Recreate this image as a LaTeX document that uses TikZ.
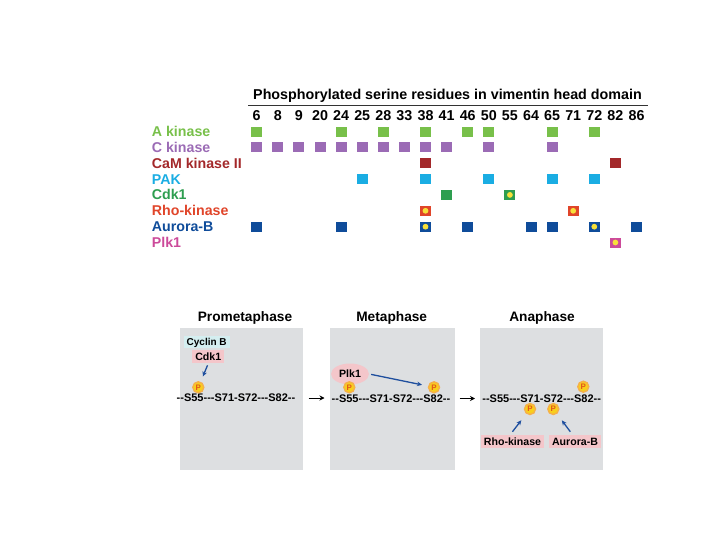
\documentclass[tikz,border=0pt]{standalone}
\usepackage{fontspec}
\setmainfont{Liberation Sans}
\usetikzlibrary{arrows.meta,shapes.geometric,calc}
\definecolor{cA}{HTML}{78C04A}
\definecolor{cC}{HTML}{9B6BB5}
\definecolor{cCaM}{HTML}{A3282A}
\definecolor{cPAK}{HTML}{1AADE3}
\definecolor{cCdk}{HTML}{2E9E50}
\definecolor{cRho}{HTML}{E0452A}
\definecolor{cAur}{HTML}{0F4C9A}
\definecolor{cPlk}{HTML}{CC4A9A}
\definecolor{dotY}{HTML}{F7E03A}
\definecolor{panelG}{HTML}{DDDFE1}
\definecolor{pinkB}{HTML}{F4C6CA}
\definecolor{cyanB}{HTML}{D4EEF0}
\definecolor{arrB}{HTML}{1F4F9E}
\definecolor{pFill}{HTML}{F8CF1C}
\definecolor{pRing}{HTML}{F5B04A}
\definecolor{pText}{HTML}{E2561B}
\newcommand\dsh{-\kern0pt}
\begin{document}
\begin{tikzpicture}[x=1pt,y=-1pt,
  lbl/.style={font=\fontsize{14.2}{14}\bfseries\selectfont, anchor=west, inner sep=0pt, text height=10pt, text depth=0pt},
  num/.style={font=\fontsize{14.3}{14}\bfseries\selectfont, inner sep=0pt, text height=10pt, text depth=0pt},
  sq/.style={minimum width=11pt, minimum height=10pt, inner sep=0pt},
  ydot/.style={circle, fill=dotY, minimum size=5.8pt, inner sep=0pt},
  panel/.style={fill=panelG, minimum height=142pt, inner sep=0pt},
  ttl/.style={font=\fontsize{13.7}{14}\bfseries\selectfont, inner sep=0pt, text height=10pt, text depth=0pt},
  seq/.style={font=\fontsize{11}{11}\bfseries\selectfont, inner sep=0pt, text height=7.9pt, text depth=0pt},
  kin/.style={font=\fontsize{10.6}{11}\bfseries\selectfont, inner sep=0pt, text height=7.6pt, text depth=0pt, fill=pinkB, inner xsep=3pt, inner ysep=2.8pt},
  pc/.style={circle, fill=pFill, draw=pRing, line width=1.4pt, minimum size=11pt, inner sep=0pt, text=pText, font=\fontsize{8}{8}\bfseries\selectfont},
  barr/.style={draw=arrB, line width=1.3pt, -{Stealth[length=5pt,width=4.5pt]}},
  karr/.style={draw=black, line width=0.9pt, -{Stealth[length=5pt,width=5pt]}}
]
\useasboundingbox (0,0) rectangle (720,540);

% header
\node[num] (hdr) at (447.5,95) {Phosphorylated serine residues in vimentin head domain};
\coordinate (hl) at (248,105);
\coordinate (hr) at (648,105);
\draw[line width=0.8pt, black!80] (hl) -- (hr);

\foreach \n [count=\i from 0] in {6,8,9,20,24,25,28,33,38,41,46,50,55,64,65,71,72,82,86}
  \node[num] (n\n) at ({256.7+21.1*\i},115.8) {\n};

% row labels
\node[lbl,text=cA]   (lA)   at (151.7,131.7) {A kinase};
\node[lbl,text=cC]   (lC)   at (151.7,147.4) {C kinase};
\node[lbl,text=cCaM] (lCaM) at (151.7,163.3) {CaM kinase II};
\node[lbl,text=cPAK] (lPAK) at (151.7,179.1) {PAK};
\node[lbl,text=cCdk] (lCdk) at (151.7,194.9) {Cdk1};
\node[lbl,text=cRho] (lRho) at (151.7,210.8) {Rho-kinase};
\node[lbl,text=cAur] (lAur) at (151.7,226.7) {Aurora-B};
\node[lbl,text=cPlk] (lPlk) at (151.7,242.5) {Plk1};

% squares
\foreach \c in {6,24,28,38,46,50,65,72}
  \node[sq,fill=cA] (A\c) at (n\c |- lA) {};
\foreach \c in {6,8,9,20,24,25,28,33,38,41,50,65}
  \node[sq,fill=cC] (C\c) at (n\c |- lC) {};
\foreach \c in {38,82}
  \node[sq,fill=cCaM] (M\c) at (n\c |- lCaM) {};
\foreach \c in {25,38,50,65,72}
  \node[sq,fill=cPAK] (K\c) at (n\c |- lPAK) {};
\foreach \c in {41,55}
  \node[sq,fill=cCdk] (D\c) at (n\c |- lCdk) {};
\foreach \c in {38,71}
  \node[sq,fill=cRho] (R\c) at (n\c |- lRho) {};
\foreach \c in {6,24,38,46,64,65,72,86}
  \node[sq,fill=cAur] (U\c) at (n\c |- lAur) {};
\node[sq,fill=cPlk] (L82) at (n82 |- lPlk) {};

% yellow dots
\node[ydot] (dD55) at (D55) {};
\node[ydot] (dR38) at (R38) {};
\node[ydot] (dR71) at (R71) {};
\node[ydot] (dU38) at (U38) {};
\node[ydot] (dU72) at (U72) {};
\node[ydot] (dL82) at (L82) {};

% panels
\node[panel, minimum width=123pt] (pro) at (241.5,399) {};
\node[panel, minimum width=125pt] (met) at (392.5,399) {};
\node[panel, minimum width=123pt] (ana) at (541.5,398.5) {};
\node[ttl] (tpro) at (245,316.7) {Prometaphase};
\node[ttl] (tmet) at (391.7,316.7) {Metaphase};
\node[ttl] (tana) at (542,316.7) {Anaphase};

% sequences
\newcommand\seqtxt{\dsh\dsh S55\dsh\dsh\dsh S71\dsh S72\dsh\dsh\dsh S82\dsh\dsh}
\node[seq] (s1) at (236,398) {\seqtxt};
\node[seq] (s2) at (391,398.5) {\seqtxt};
\node[seq] (s3) at (541.7,399) {\seqtxt};

\coordinate (a1s) at (308.5,398);
\coordinate (a1e) at (324.5,398);
\coordinate (a2s) at (459.5,398.5);
\coordinate (a2e) at (475,398.5);
\draw[karr] (a1s) -- (a1e);
\draw[karr] (a2s) -- (a2e);

% prometaphase
\node[font=\fontsize{10}{10}\bfseries\selectfont, fill=cyanB, inner sep=0pt, inner xsep=3pt, inner ysep=2.2pt, text height=7.2pt, text depth=0pt] (cyc) at (206.7,341.7) {Cyclin B};
\node[kin] (cdk) at (208.3,356.7) {Cdk1};
\node[pc] (p1) at (198.3,387.3) {P};
\draw[barr, shorten <=2pt, shorten >=5.5pt] (cdk.south) -- (p1);

% metaphase
\node[ellipse, fill=pinkB, minimum width=38pt, minimum height=21pt, inner sep=0pt, font=\fontsize{10.6}{11}\bfseries\selectfont] (plk) at (350,374) {Plk1};
\node[pc] (p2) at (349.3,387.3) {P};
\node[pc] (p3) at (434,387.3) {P};
\draw[barr, shorten <=2pt, shorten >=6pt] (plk.east) -- (p3);

% anaphase
\node[pc] (p4) at (583.3,386.7) {P};
\node[pc] (p5) at (530,409) {P};
\node[pc] (p6) at (553.3,409) {P};
\node[kin] (rho) at (512.5,441.7) {Rho-kinase};
\node[kin] (aur) at (575,441.7) {Aurora-B};
\draw[barr, shorten <=4pt, shorten >=8pt] ($(rho.north)+(-2.5,0)$) -- (p5);
\draw[barr, shorten <=4pt, shorten >=8pt] ($(aur.north)+(-2.3,0)$) -- (p6);
\end{tikzpicture}
\end{document}
